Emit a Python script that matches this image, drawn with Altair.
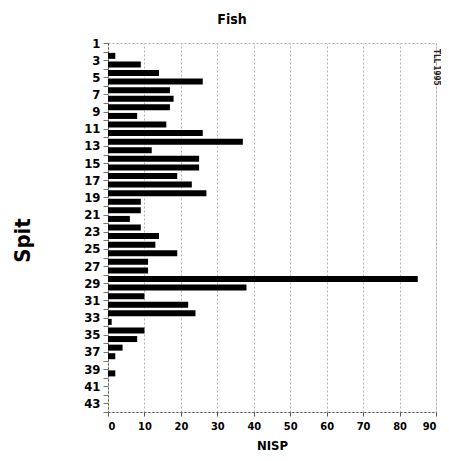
import altair as alt
import pandas as pd

spits = list(range(1, 44))
nisp = [0, 2, 9, 14, 26, 17, 18, 17, 8, 16,
        26, 37, 12, 25, 25, 19, 23, 27, 9, 9,
        6, 9, 14, 13, 19, 11, 11, 85, 38, 10,
        22, 24, 1, 10, 8, 4, 2, 0, 2, 0,
        0, 0, 0]
x_ticks = list(range(0, 100, 10))
y_ticks = list(range(1, 45))

df = pd.DataFrame({"spit": spits, "nisp": nisp})

FONT = "DejaVu Sans Condensed, Liberation Sans, sans-serif"

bars = alt.Chart(df).transform_calculate(
    zero="0", ya="datum.spit + 0.15", yb="datum.spit + 0.85"
).mark_rect(color="black").encode(
    x=alt.X("zero:Q", scale=alt.Scale(domain=[0, 90], nice=False),
            axis=alt.Axis(values=x_ticks, title="NISP", grid=True,
                          gridColor="#b8b0b0", gridDash=[2, 2], gridWidth=1,
                          domainColor="#555", domainDash=[2, 2],
                          tickColor="#555", tickSize=4,
                          labelFont=FONT, labelFontSize=11, labelFontWeight="bold",
                          labelPadding=4,
                          titleFont=FONT, titleFontSize=13, titleFontWeight="bold",
                          titlePadding=8)),
    x2="nisp:Q",
    y=alt.Y("ya:Q", scale=alt.Scale(domain=[1, 44], reverse=True, nice=False, zero=False),
            axis=alt.Axis(values=y_ticks, title="Spit", grid=False,
                          labelExpr="datum.value % 2 == 1 ? datum.label : ''",
                          domainColor="#555", domainDash=[2, 2],
                          tickColor="#777", tickSize=5,
                          labelFont=FONT, labelFontSize=13, labelFontWeight="bold",
                          labelPadding=3,
                          titleFont=FONT, titleFontSize=22, titleFontWeight="bold",
                          titleX=-74, titleY=197, titleAngle=-90)),
    y2="yb:Q",
)

note = alt.Chart(pd.DataFrame({"t": ["TLL 1995"]})).mark_text(
    angle=90, align="left", baseline="top", font=FONT, fontSize=8,
    fontWeight="bold", color="#222"
).encode(x=alt.value(332), y=alt.value(6), text="t:N")

chart = alt.layer(bars, note).properties(
    width=328, height=369,
    autosize=alt.AutoSizeParams(type="none"),
    padding={"left": 100, "top": 35, "right": 5, "bottom": 45},
    title=alt.Title("Fish", font=FONT, fontSize=14, fontWeight="bold",
                    anchor="middle", dx=-40, offset=10),
).configure_view(stroke="#b8b0b0", strokeDash=[2, 2])

chart.save("out.html", embed_options={"renderer": "svg", "actions": False})
